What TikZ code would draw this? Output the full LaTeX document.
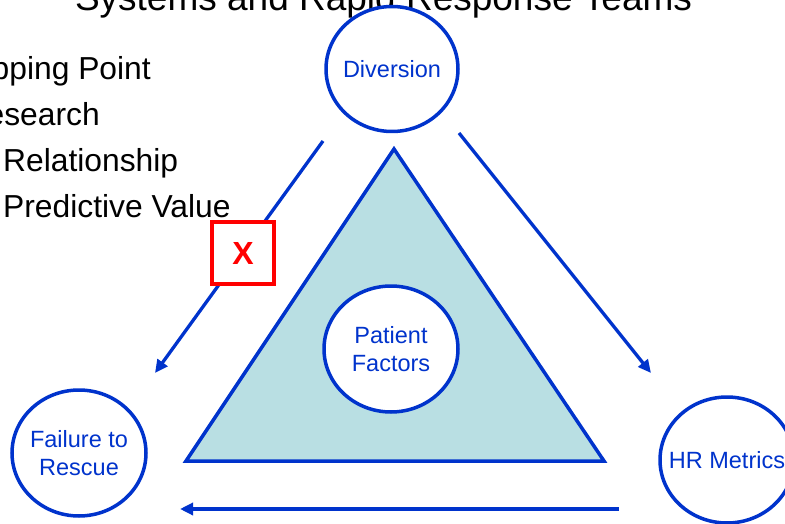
\documentclass[tikz,border=0pt]{standalone}
\usepackage{fontspec}
\setmainfont{Liberation Sans}
\usetikzlibrary{shapes.geometric,arrows.meta}
\definecolor{dblue}{RGB}{0,51,204}
\definecolor{teal}{RGB}{185,223,227}
\definecolor{xred}{RGB}{255,0,0}
\tikzset{
  circ/.style={ellipse, draw=dblue, line width=3.5pt, fill=white, inner sep=0pt,
    minimum width=134pt, minimum height=126pt},
  lbl/.style={inner sep=0pt, text=dblue, align=center,
    font=\fontsize{23.5}{28.5}\selectfont},
  conn/.style={draw=dblue, line width=3.3pt, -{Triangle[length=13pt,width=12pt]}},
  bullet/.style={inner sep=0pt, font=\fontsize{31.8}{36}\selectfont, text=black},
  xbox/.style={rectangle, draw=xred, line width=4pt, fill=white, minimum size=62pt,
    inner sep=0pt, text=xred, font=\fontsize{32}{36}\selectfont\bfseries}
}
\begin{document}
\begin{tikzpicture}[x=1pt,y=-1pt]
\useasboundingbox (0,0) rectangle (785,524);
\clip (0,0) rectangle (785,524);
% title
\node[inner sep=0pt, anchor=base, font=\fontsize{37}{42}\selectfont] (title) at (383.5,11) {Systems and Rapid Response Teams};
% bullets
\node[bullet, anchor=base east] (b1) at (151,80) {Tipping Point};
\node[bullet, anchor=base east] (b2) at (100,126) {Research};
\node[bullet, anchor=base west] (b3) at (3,172) {Relationship};
\node[bullet, anchor=base west] (b4) at (3,218) {Predictive Value};
% triangle
\coordinate (tA) at (394,149);
\coordinate (tB) at (186,461);
\coordinate (tC) at (604,461);
\draw[dblue, line width=3.5pt, fill=teal, line join=miter] (tA) -- (tB) -- (tC) -- cycle;
% arrow endpoints
\coordinate (a1s) at (323,141);
\coordinate (a1e) at (155,373);
\coordinate (a2s) at (459,133);
\coordinate (a2e) at (651,373);
\coordinate (a3s) at (619,509);
\coordinate (a3e) at (180,509);
\draw[conn] (a1s) -- (a1e);
\draw[conn] (a2s) -- (a2e);
\draw[conn] (a3s) -- (a3e);
% X box
\node[xbox] (xb) at (243,253) {X};
% circles
\node[circ, minimum width=132pt, minimum height=125pt, label={[lbl]center:Diversion}] (div) at (392,69) {};
\node[circ, label={[lbl]center:Failure to\\Rescue}] (ftr) at (79,453) {};
\node[circ, label={[lbl]center:Patient\\Factors}] (pf) at (391,349) {};
\node[circ, label={[lbl]center:HR Metrics}] (hr) at (727,460) {};
\end{tikzpicture}
\end{document}
